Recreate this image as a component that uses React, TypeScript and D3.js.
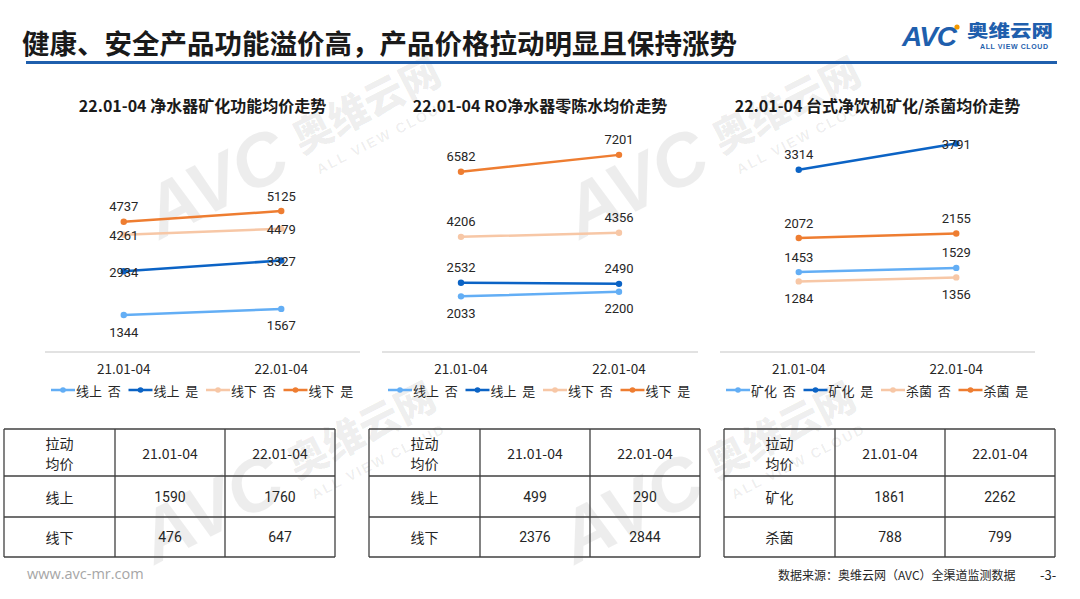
import React from "react";
import * as d3 from "d3";

// ---- data ----
const pageTitle = "健康、安全产品功能溢价高，产品价格拉动明显且保持涨势";
const categories = ["21.01-04", "22.01-04"];

const chartTitles = [
  "22.01-04 净水器矿化功能均价走势",
  "22.01-04 RO净水器零陈水均价走势",
  "22.01-04 台式净饮机矿化/杀菌均价走势",
];

const channelSeries = ["线上  否", "线上  是", "线下  否", "线下  是"];
const functionSeries = ["矿化  否", "矿化  是", "杀菌  否", "杀菌  是"];

const mineralValues = [
  [1344, 1567],
  [2934, 3327],
  [4261, 4479],
  [4737, 5125],
];
const roValues = [
  [2033, 2200],
  [2532, 2490],
  [4206, 4356],
  [6582, 7201],
];
const desktopValues = [
  [1453, 1529],
  [3314, 3791],
  [1284, 1356],
  [2072, 2155],
];

const tableHeader = ["拉动\n均价", "21.01-04", "22.01-04"];
const channelRows = ["线上", "线下"];
const functionRows = ["矿化", "杀菌"];
const mineralTable = [
  [1590, 1760],
  [476, 647],
];
const roTable = [
  [499, 290],
  [2376, 2844],
];
const desktopTable = [
  [1861, 2262],
  [788, 799],
];

const seriesColors = ["#63aef5", "#0b63c5", "#f7c7a6", "#ee7d31"];
const FONT = "'Noto Sans CJK SC', 'Noto Sans', sans-serif";

type Pos = "above" | "below" | "center";

const charts = [
  {
    title: chartTitles[0],
    series: channelSeries,
    values: mineralValues,
    yMax: 6000,
    left: 45,
    right: 360,
    top: 187,
    labelPos: [["below", "below"], ["center", "center"], ["center", "center"], ["above", "above"]] as Pos[][],
  },
  {
    title: chartTitles[1],
    series: channelSeries,
    values: roValues,
    yMax: 8000,
    left: 382,
    right: 698,
    top: 133,
    labelPos: [["below", "below"], ["above", "above"], ["above", "above"], ["above", "above"]] as Pos[][],
  },
  {
    title: chartTitles[2],
    series: functionSeries,
    values: desktopValues,
    yMax: 4000,
    left: 720,
    right: 1035,
    top: 132,
    labelPos: [["above", "above"], ["above", "center"], ["below", "below"], ["above", "above"]] as Pos[][],
  },
];

const tables = [
  { left: 4, rows: channelRows, values: mineralTable },
  { left: 369, rows: channelRows, values: roTable },
  { left: 724, rows: functionRows, values: desktopTable },
];

const BASE = 352;

const Watermark = ({ x, y }: { x: number; y: number }) => (
  <g transform={`translate(${x},${y}) rotate(-27)`} fill="#000" fillOpacity={0.07}>
    <text x={0} y={0} fontSize={74} fontWeight={700} fontStyle="italic" fontFamily="'Liberation Sans', Arial, sans-serif">
      AVC
    </text>
    <text x={165} y={-12} fontSize={40} fontWeight={900} fontFamily={FONT}>
      奥维云网
    </text>
    <text x={172} y={14} fontSize={14} fontWeight={700} letterSpacing={2} fontFamily="'Liberation Sans', Arial, sans-serif">
      ALL VIEW CLOUD
    </text>
  </g>
);

const LineChart = ({ cfg }: { cfg: (typeof charts)[number] }) => {
  const x = d3.scalePoint<string>().domain(categories).range([cfg.left, cfg.right]).padding(0.5);
  const y = d3.scaleLinear().domain([0, cfg.yMax]).range([BASE, cfg.top]);
  const line = d3
    .line<number>()
    .x((_, i) => x(categories[i]) as number)
    .y((d) => y(d));
  const mid = (cfg.left + cfg.right) / 2;
  const offset = { above: -15, below: 17, center: 1 };

  return (
    <g>
      <text x={mid} y={105} textAnchor="middle" dominantBaseline="central" fontSize={16} fontWeight={700} fill="#1a1a1a" fontFamily={FONT}>
        {cfg.title}
      </text>
      <line x1={cfg.left} x2={cfg.right} y1={BASE} y2={BASE} stroke="#d9d9d9" strokeWidth={1.5} />
      {categories.map((c) => (
        <text key={c} x={x(c)} y={368} textAnchor="middle" dominantBaseline="central" fontSize={13.5} fill="#262626" fontFamily={FONT}>
          {c}
        </text>
      ))}
      {cfg.values.map((vals, si) => (
        <g key={si}>
          <path d={line(vals) || ""} fill="none" stroke={seriesColors[si]} strokeWidth={2.5} strokeLinecap="round" />
          {vals.map((v, i) => (
            <circle key={i} cx={x(categories[i])} cy={y(v)} r={3.2} fill={seriesColors[si]} />
          ))}
        </g>
      ))}
      {cfg.values.map((vals, si) =>
        vals.map((v, i) => (
          <text
            key={`${si}-${i}`}
            x={x(categories[i])}
            y={y(v) + offset[cfg.labelPos[si][i]]}
            textAnchor="middle"
            dominantBaseline="central"
            fontSize={13}
            fill="#262626"
            fontFamily="Roboto, 'Noto Sans', sans-serif"
          >
            {v}
          </text>
        ))
      )}
      {cfg.series.map((s, si) => {
        const lx = cfg.left + 6 + si * 77.5;
        return (
          <g key={s}>
            <line x1={lx} x2={lx + 24} y1={390} y2={390} stroke={seriesColors[si]} strokeWidth={2.5} />
            <circle cx={lx + 12} cy={390} r={2.8} fill={seriesColors[si]} />
            <text x={lx + 25} y={390} dominantBaseline="central" fontSize={13} fill="#262626" fontFamily={FONT} style={{ whiteSpace: "pre" }}>
              {s}
            </text>
          </g>
        );
      })}
    </g>
  );
};

const Table = ({ cfg }: { cfg: (typeof tables)[number] }) => {
  const colW = [111, 110, 110];
  const rowY = [429, 476, 517, 557];
  const colX = [cfg.left, cfg.left + colW[0], cfg.left + colW[0] + colW[1], cfg.left + colW[0] + colW[1] + colW[2]];
  const cx = (c: number) => (colX[c] + colX[c + 1]) / 2;
  const cy = (r: number) => (rowY[r] + rowY[r + 1]) / 2;
  const txt = { fontSize: 14, fill: "#262626", fontFamily: FONT, textAnchor: "middle" as const, dominantBaseline: "central" as const };
  const header = tableHeader[0].split("\n");
  return (
    <g>
      {rowY.map((ry, i) => (
        <line key={`r${i}`} x1={colX[0]} x2={colX[3]} y1={ry} y2={ry} stroke="#404040" strokeWidth={1.3} />
      ))}
      {colX.map((cxx, i) => (
        <line key={`c${i}`} x1={cxx} x2={cxx} y1={rowY[0]} y2={rowY[3]} stroke="#404040" strokeWidth={1.3} />
      ))}
      <text x={cx(0)} y={cy(0) - 10} {...txt}>
        {header[0]}
      </text>
      <text x={cx(0)} y={cy(0) + 10} {...txt}>
        {header[1]}
      </text>
      <text x={cx(1)} y={cy(0)} {...txt}>
        {tableHeader[1]}
      </text>
      <text x={cx(2)} y={cy(0)} {...txt}>
        {tableHeader[2]}
      </text>
      {cfg.rows.map((r, ri) => (
        <g key={r}>
          <text x={cx(0)} y={cy(ri + 1)} {...txt}>
            {r}
          </text>
          {cfg.values[ri].map((v, vi) => (
            <text key={vi} x={cx(vi + 1)} y={cy(ri + 1)} {...txt} fontFamily="Roboto, 'Noto Sans', sans-serif">
              {v}
            </text>
          ))}
        </g>
      ))}
    </g>
  );
};

export default function App() {
  return (
    <svg width={1080} height={599} style={{ position: "absolute", left: 0, top: 0, background: "#fff" }}>
      <rect width={1080} height={599} fill="#fff" />
      <Watermark x={160} y={240} />
      <Watermark x={580} y={240} />
      <Watermark x={155} y={565} />
      <Watermark x={575} y={565} />

      <text x={22} y={42} dominantBaseline="central" fontSize={27.5} fontWeight={700} fill="#1a1a1a" fontFamily={FONT}>
        {pageTitle}
      </text>
      <line x1={26} x2={1057} y1={62.5} y2={62.5} stroke="#1f5fad" strokeWidth={3} />

      {/* logo */}
      <text x={902} y={46} fontSize={28} fontWeight={700} fontStyle="italic" fill="#1f5fad" fontFamily="'Liberation Sans', Arial, sans-serif" letterSpacing={-1}>
        AVC
      </text>
      <circle cx={957} cy={27} r={2.6} fill="#f39800" />
      <text x={967} y={30} dominantBaseline="central" fontSize={16.5} fontWeight={900} fill="#1f5fad" fontFamily={FONT} textLength={86} lengthAdjust="spacingAndGlyphs">
        奥维云网
      </text>
      <text x={980} y={46.5} dominantBaseline="central" fontSize={7} fontWeight={700} fill="#1f5fad" fontFamily="'Liberation Sans', Arial, sans-serif" letterSpacing={0.6}>
        ALL VIEW CLOUD
      </text>

      {charts.map((c) => (
        <LineChart key={c.title} cfg={c} />
      ))}
      {tables.map((t) => (
        <Table key={t.left} cfg={t} />
      ))}

      <text x={27} y={573} dominantBaseline="central" fontSize={14.5} fill="#a6a6a6" fontFamily="'Open Sans', 'Noto Sans', sans-serif">
        www.avc-mr.com
      </text>
      <text x={778} y={574} dominantBaseline="central" fontSize={12} fill="#262626" fontFamily={FONT}>
        数据来源：奥维云网（AVC）全渠道监测数据
      </text>
      <text x={1040} y={574} dominantBaseline="central" fontSize={13} fill="#262626" fontFamily={FONT}>
        -3-
      </text>
    </svg>
  );
}
